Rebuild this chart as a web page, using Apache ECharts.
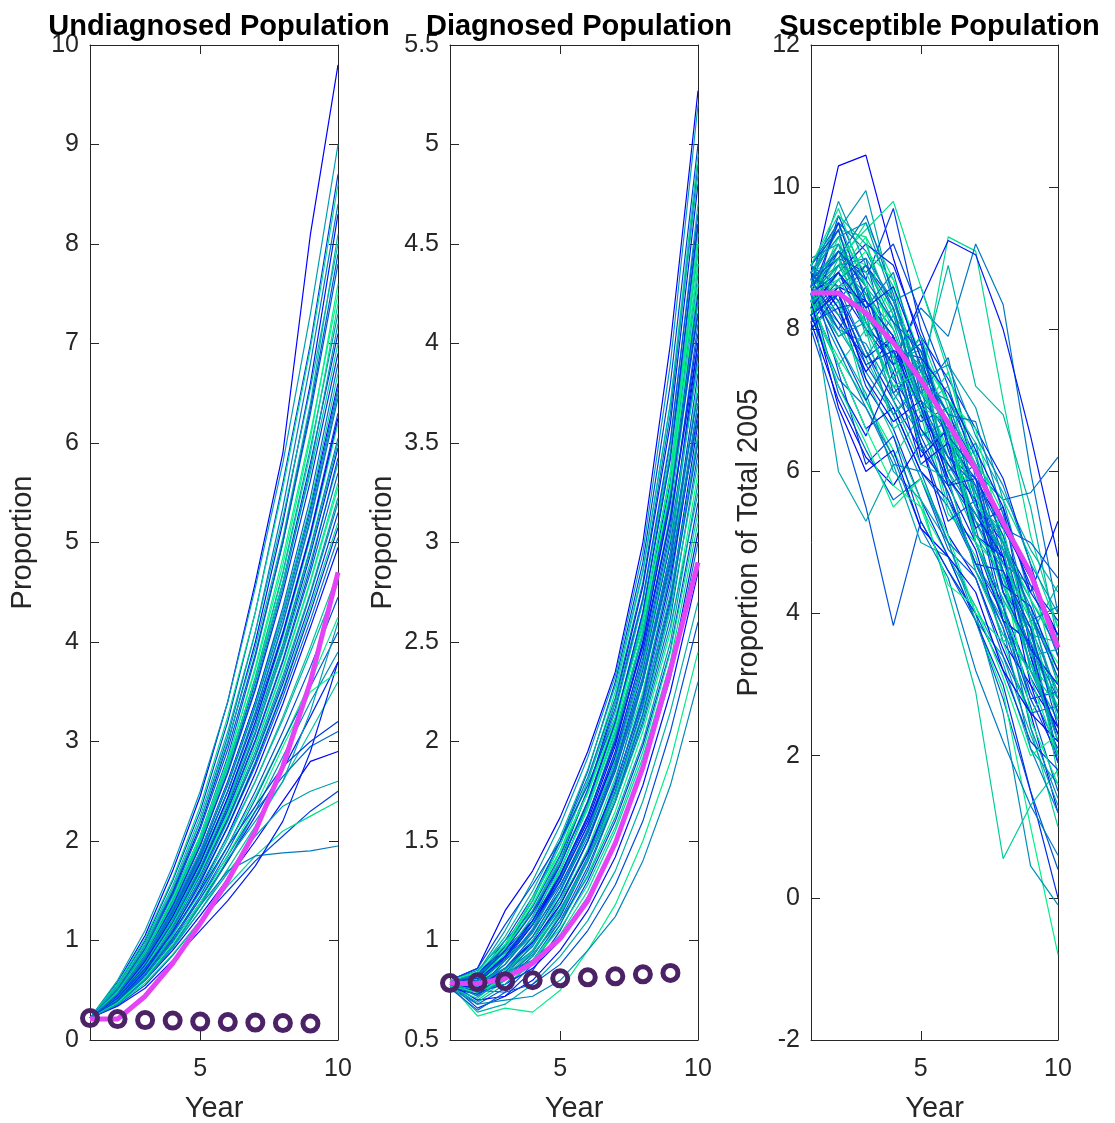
<!DOCTYPE html>
<html>
<head>
<meta charset="utf-8">
<script src="https://cdn.jsdelivr.net/npm/echarts@6/dist/echarts.min.js"></script>
<style>
  html, body { margin: 0; padding: 0; background: #fff; }
  #main { width: 1115px; height: 1123px; }
</style>
</head>
<body>
<div id="main"></div>
<script>
// years on the x axis
var years = [1, 2, 3, 4, 5, 6, 7, 8, 9, 10];

// panel titles / axis names
var titles = ['Undiagnosed Population', 'Diagnosed Population', 'Susceptible Population'];
var yNames = ['Proportion', 'Proportion', 'Proportion of Total 2005'];

// undiagnosed: simulation runs, mean (magenta), observed (circles, years 1-9)
var undiagRuns = [
    [0.22,0.58,1.05,1.7,2.45,3.4,4.6,5.9,8.1,9.8],
    [0.22,0.6,1.1,1.75,2.5,3.4,4.55,5.8,7.3,9.0],
    [0.22,0.55,1.0,1.6,2.3,3.2,4.3,5.6,7.0,8.7],
    [0.22,0.57,1.02,1.62,2.35,3.25,4.3,5.55,6.95,8.6],
    [0.22,0.52,0.95,1.5,2.2,3.05,4.1,5.35,6.8,8.4],
    [0.22,0.5,0.92,1.48,2.15,2.98,4.0,5.2,6.6,8.3],
    [0.22,0.55,0.98,1.55,2.25,3.1,4.1,5.25,6.55,8.0],
    [0.22,0.5,0.9,1.42,2.05,2.85,3.85,5.0,6.3,7.8],
    [0.22,0.48,0.88,1.4,2.02,2.8,3.75,4.85,6.1,7.5],
    [0.22,0.5,0.9,1.4,2.0,2.75,3.65,4.7,5.95,7.3],
    [0.22,0.47,0.85,1.35,1.95,2.7,3.6,4.6,5.8,7.1],
    [0.22,0.52,0.93,1.45,2.05,2.78,3.62,4.6,5.7,7.0],
    [0.22,0.46,0.83,1.3,1.88,2.58,3.4,4.35,5.45,6.8],
    [0.22,0.48,0.86,1.33,1.9,2.6,3.4,4.3,5.35,6.6],
    [0.22,0.45,0.8,1.27,1.82,2.5,3.3,4.2,5.25,6.5],
    [0.22,0.47,0.84,1.3,1.85,2.5,3.25,4.1,5.1,6.3],
    [0.22,0.44,0.78,1.23,1.77,2.42,3.18,4.05,5.05,6.2],
    [0.22,0.46,0.82,1.27,1.8,2.43,3.15,3.98,4.95,6.05],
    [0.22,0.43,0.76,1.2,1.72,2.35,3.08,3.92,4.88,5.95],
    [0.22,0.45,0.8,1.25,1.78,2.4,3.1,3.9,4.8,5.8],
    [0.22,0.42,0.75,1.18,1.7,2.3,3.0,3.8,4.7,5.7],
    [0.22,0.44,0.78,1.2,1.7,2.28,2.95,3.72,4.6,5.55],
    [0.22,0.41,0.73,1.15,1.65,2.23,2.9,3.66,4.5,5.45],
    [0.22,0.43,0.76,1.17,1.66,2.22,2.85,3.58,4.4,5.3],
    [0.22,0.4,0.7,1.1,1.58,2.15,2.8,3.52,4.35,5.2],
    [0.22,0.42,0.74,1.14,1.6,2.14,2.75,3.45,4.22,5.05],
    [0.22,0.39,0.68,1.06,1.52,2.06,2.68,3.38,4.15,4.95],
    [0.22,0.41,0.72,1.1,1.55,2.05,2.6,3.22,3.9,4.6],
    [0.22,0.38,0.66,1.02,1.45,1.95,2.5,3.1,3.75,4.45],
    [0.22,0.4,0.7,1.06,1.48,1.95,2.45,3.0,3.6,4.25],
    [0.22,0.37,0.62,0.95,1.35,1.8,2.3,2.85,3.4,3.9],
    [0.22,0.38,0.64,0.98,1.38,1.8,2.25,2.72,3.25,3.8],
    [0.22,0.36,0.6,0.92,1.3,1.72,2.15,2.6,3.1,3.6],
    [0.22,0.4,0.68,1.03,1.42,1.85,2.3,2.65,2.95,3.1],
    [0.22,0.37,0.6,0.9,1.25,1.62,2.0,2.4,2.8,2.9],
    [0.22,0.38,0.62,0.93,1.3,1.68,2.05,2.35,2.5,2.6],
    [0.22,0.35,0.55,0.85,1.2,1.5,1.8,2.05,2.3,2.5],
    [0.22,0.36,0.57,0.86,1.2,1.55,1.85,2.1,2.25,2.4],
    [0.22,0.45,0.7,1.0,1.35,1.7,1.85,1.88,1.9,1.95],
    [0.22,0.34,0.52,0.8,1.1,1.4,1.75,2.2,2.9,3.8],
    [0.22,0.53,0.96,1.52,2.2,3.0,3.95,5.05,6.4,8.1],
    [0.22,0.51,0.92,1.46,2.12,2.92,3.88,5.0,6.35,7.9],
    [0.22,0.49,0.89,1.42,2.05,2.82,3.72,4.78,6.05,7.6],
    [0.22,0.5,0.88,1.38,1.98,2.7,3.55,4.55,5.75,7.2],
    [0.22,0.47,0.86,1.36,1.96,2.68,3.52,4.5,5.62,6.9],
    [0.22,0.46,0.84,1.32,1.9,2.58,3.38,4.3,5.38,6.7],
    [0.22,0.45,0.81,1.28,1.84,2.5,3.28,4.18,5.22,6.45],
    [0.22,0.44,0.79,1.24,1.78,2.44,3.2,4.08,5.08,6.25],
    [0.22,0.43,0.77,1.21,1.74,2.37,3.1,3.95,4.92,6.0],
    [0.22,0.42,0.75,1.18,1.7,2.32,3.02,3.82,4.75,5.85],
    [0.22,0.41,0.73,1.16,1.67,2.26,2.95,3.74,4.62,5.6],
    [0.22,0.4,0.71,1.12,1.62,2.2,2.86,3.62,4.48,5.4],
    [0.22,0.39,0.69,1.09,1.58,2.14,2.78,3.5,4.3,5.15],
    [0.22,0.38,0.67,1.05,1.5,2.02,2.6,3.25,3.95,4.7],
    [0.22,0.39,0.66,1.0,1.42,1.9,2.42,3.0,3.55,4.1],
    [0.22,0.37,0.63,0.97,1.38,1.86,2.35,2.95,3.5,3.7],
    [0.22,0.36,0.6,0.93,1.35,1.82,2.2,2.6,3.3,4.2],
    [0.22,0.42,0.72,1.08,1.5,1.95,2.35,2.75,3.0,3.2],
    [0.22,0.48,0.87,1.38,1.99,2.74,3.63,4.68,5.9,7.4],
    [0.22,0.46,0.83,1.31,1.88,2.56,3.35,4.25,5.3,6.55]
];
var undiagMean = [0.21,0.21,0.44,0.77,1.17,1.6,2.1,2.75,3.6,4.7];
var undiagObs = [0.22,0.21,0.2,0.195,0.185,0.18,0.175,0.17,0.165];

// diagnosed
var diagRuns = [
    [0.8,0.86,1.15,1.35,1.62,1.95,2.35,3.0,4.0,5.27],
    [0.79,0.84,1.05,1.3,1.58,1.92,2.33,2.95,3.9,5.2],
    [0.78,0.82,1.0,1.22,1.5,1.85,2.3,2.9,3.8,5.0],
    [0.77,0.8,0.95,1.18,1.45,1.8,2.25,2.85,3.7,4.95],
    [0.79,0.83,0.98,1.2,1.5,1.82,2.22,2.8,3.65,4.9],
    [0.78,0.78,0.92,1.12,1.4,1.75,2.2,2.78,3.6,4.8],
    [0.76,0.8,0.95,1.15,1.42,1.75,2.15,2.7,3.5,4.7],
    [0.78,0.75,0.9,1.1,1.38,1.7,2.1,2.65,3.45,4.6],
    [0.8,0.82,0.96,1.15,1.4,1.7,2.08,2.6,3.35,4.5],
    [0.77,0.76,0.88,1.05,1.3,1.62,2.02,2.55,3.3,4.4],
    [0.79,0.8,0.9,1.08,1.33,1.63,2.0,2.5,3.2,4.3],
    [0.78,0.72,0.85,1.02,1.25,1.55,1.95,2.45,3.15,4.2],
    [0.76,0.78,0.88,1.04,1.27,1.56,1.93,2.42,3.08,4.1],
    [0.8,0.84,0.95,1.1,1.3,1.58,1.92,2.38,3.0,4.0],
    [0.78,0.74,0.82,0.98,1.2,1.5,1.87,2.33,2.95,3.95],
    [0.77,0.79,0.86,1.0,1.22,1.5,1.85,2.3,2.9,3.85],
    [0.79,0.7,0.8,0.95,1.18,1.46,1.82,2.25,2.85,3.8],
    [0.78,0.77,0.84,0.97,1.18,1.45,1.78,2.2,2.78,3.7],
    [0.76,0.73,0.8,0.92,1.12,1.4,1.75,2.18,2.72,3.6],
    [0.8,0.82,0.9,1.02,1.2,1.44,1.74,2.14,2.68,3.55],
    [0.78,0.68,0.76,0.9,1.1,1.37,1.7,2.1,2.62,3.45],
    [0.77,0.75,0.8,0.9,1.08,1.33,1.65,2.05,2.55,3.35],
    [0.79,0.78,0.82,0.93,1.1,1.32,1.62,2.0,2.5,3.3],
    [0.78,0.66,0.72,0.85,1.05,1.3,1.6,1.98,2.46,3.2],
    [0.76,0.74,0.78,0.88,1.03,1.25,1.55,1.92,2.4,3.1],
    [0.8,0.8,0.84,0.9,1.02,1.22,1.5,1.86,2.32,3.0],
    [0.78,0.7,0.72,0.8,0.95,1.15,1.42,1.78,2.25,2.85],
    [0.77,0.64,0.68,0.78,0.92,1.1,1.35,1.7,2.15,2.7],
    [0.79,0.75,0.74,0.78,0.88,1.05,1.28,1.6,2.05,2.6],
    [0.78,0.62,0.66,0.64,0.75,0.95,1.18,1.5,1.9,2.45],
    [0.76,0.68,0.7,0.72,0.8,0.95,1.12,1.4,1.78,2.3],
    [0.78,0.82,0.92,1.08,1.35,1.68,2.1,2.62,3.3,4.15],
    [0.77,0.8,0.98,1.2,1.48,1.8,2.2,2.72,3.45,4.45],
    [0.79,0.76,0.86,1.02,1.25,1.55,1.9,2.4,3.05,3.9],
    [0.78,0.79,0.9,1.08,1.32,1.6,1.98,2.5,3.22,4.25],
    [0.8,0.85,1.0,1.15,1.4,1.68,2.05,2.55,3.25,4.35],
    [0.77,0.73,0.84,1.0,1.22,1.5,1.88,2.36,3.0,3.95],
    [0.78,0.81,0.93,1.12,1.36,1.66,2.04,2.55,3.28,4.5],
    [0.76,0.78,0.84,0.95,1.15,1.42,1.8,2.3,2.95,3.75],
    [0.79,0.74,0.78,0.86,1.0,1.2,1.48,1.85,2.35,3.05],
    [0.78,0.84,1.02,1.25,1.52,1.86,2.28,2.86,3.7,4.85],
    [0.79,0.82,0.97,1.17,1.43,1.76,2.17,2.72,3.52,4.65],
    [0.77,0.78,0.9,1.09,1.35,1.67,2.07,2.6,3.36,4.4],
    [0.8,0.77,0.88,1.06,1.31,1.62,2.02,2.53,3.24,4.22],
    [0.78,0.8,0.91,1.08,1.3,1.58,1.95,2.45,3.12,4.05],
    [0.76,0.71,0.83,1.0,1.24,1.54,1.91,2.38,3.02,3.9],
    [0.79,0.83,0.94,1.08,1.28,1.54,1.88,2.32,2.92,3.75],
    [0.78,0.76,0.86,0.99,1.18,1.44,1.78,2.22,2.82,3.65],
    [0.77,0.69,0.78,0.92,1.13,1.4,1.74,2.17,2.74,3.52],
    [0.8,0.86,1.08,1.28,1.5,1.78,2.12,2.58,3.22,4.15],
    [0.78,0.79,0.96,1.22,1.45,1.74,2.12,2.62,3.35,4.55],
    [0.79,0.72,0.8,0.94,1.15,1.42,1.77,2.23,2.85,3.7],
    [0.77,0.8,0.92,1.1,1.33,1.62,2.0,2.48,3.12,4.0],
    [0.78,0.75,0.82,0.95,1.14,1.4,1.72,2.12,2.66,3.4],
    [0.76,0.65,0.74,0.88,1.08,1.35,1.7,2.14,2.7,3.5],
    [0.8,0.84,0.98,1.18,1.45,1.74,2.1,2.58,3.28,4.3],
    [0.78,0.78,0.86,0.98,1.16,1.4,1.7,2.08,2.58,3.25],
    [0.79,0.81,0.95,1.14,1.38,1.7,2.1,2.65,3.42,4.6],
    [0.77,0.74,0.8,0.9,1.06,1.28,1.57,1.95,2.45,3.15],
    [0.78,0.8,0.9,1.05,1.25,1.52,1.86,2.3,2.88,3.62]
];
var diagMean = [0.786,0.783,0.81,0.886,1.01,1.2,1.49,1.87,2.36,2.9];
var diagObs = [0.786,0.79,0.795,0.8,0.81,0.815,0.82,0.83,0.837];

// susceptible
var suscRuns = [
    [8.6,10.3,10.45,9.0,7.8,6.5,5.8,4.6,3.5,2.2],
    [8.8,9.4,9.95,8.4,8.6,7.5,6.9,5.6,4.2,3.0],
    [8.3,9.6,8.7,9.7,8.0,7.0,6.2,5.0,3.6,2.6],
    [8.9,9.4,9.3,8.6,7.2,9.3,9.1,7.0,5.1,3.8],
    [8.4,8.8,8.2,7.6,8.3,7.9,9.2,8.35,6.0,4.0],
    [8.2,8.6,8.0,7.5,8.4,9.25,9.05,8.0,6.5,4.8],
    [8.8,9.5,8.6,8.1,7.4,8.9,7.2,6.8,5.5,3.6],
    [8.0,6.8,5.5,3.83,5.3,4.6,3.9,2.8,1.5,0.4],
    [8.3,7.6,7.0,6.3,5.5,4.8,3.9,2.9,1.0,-0.8],
    [8.6,8.0,7.4,6.8,5.9,5.0,4.0,2.6,0.45,-0.1],
    [8.9,8.3,7.2,6.6,5.6,4.8,3.9,3.0,1.5,0.0],
    [8.5,8.1,7.3,6.5,5.6,4.3,2.9,0.55,1.3,1.8],
    [8.7,9.0,8.4,7.9,7.1,6.5,6.0,5.6,5.7,6.2],
    [8.1,7.0,6.2,5.8,6.4,5.1,4.5,3.5,2.6,1.2],
    [8.5,6.0,5.3,6.1,5.0,4.8,4.1,3.3,2.1,1.6],
    [8.7,9.0,8.8,9.2,8.2,7.2,6.0,4.8,3.4,2.0],
    [8.4,8.9,9.5,8.7,7.6,6.8,5.5,4.3,3.3,2.8],
    [9.0,9.2,8.5,8.0,6.9,6.1,5.4,4.7,4.0,3.2],
    [8.2,8.5,7.7,7.0,6.3,5.8,5.0,4.1,3.1,2.4],
    [8.6,9.0,8.3,7.4,7.9,6.5,5.3,4.4,3.7,4.4],
    [8.8,8.2,7.5,6.9,6.0,5.5,4.7,3.8,2.7,1.5],
    [8.3,9.1,8.9,8.2,7.3,6.2,5.7,5.0,3.9,3.3],
    [8.5,7.9,8.1,7.2,6.6,5.9,4.6,3.9,3.2,2.5],
    [8.9,8.6,8.9,8.4,7.5,6.8,6.1,5.3,4.4,3.9],
    [8.0,8.4,7.0,6.2,6.8,5.4,5.0,4.2,2.4,1.0],
    [8.7,9.4,8.2,7.8,7.0,5.9,5.3,4.6,3.8,2.9],
    [8.4,7.5,6.6,6.9,6.0,5.6,4.9,3.6,3.0,1.9],
    [8.6,8.9,8.5,7.6,7.7,7.0,6.4,5.7,4.9,4.3],
    [8.2,8.7,9.0,7.5,6.4,5.7,4.7,4.0,2.9,2.1],
    [8.8,9.3,8.0,8.6,7.2,6.3,5.8,4.3,3.5,2.7],
    [8.5,8.0,7.8,7.1,6.5,6.7,5.5,4.9,4.2,3.5],
    [8.3,8.8,9.2,8.9,7.9,7.3,6.6,5.9,4.7,3.4],
    [8.7,8.4,7.6,6.8,7.3,6.0,5.1,4.5,3.3,2.3],
    [8.9,9.5,9.1,8.3,7.0,6.6,5.2,3.9,3.6,2.8],
    [8.1,8.6,8.4,7.9,6.8,6.2,5.9,5.2,4.5,3.7],
    [8.6,7.8,7.1,6.0,5.6,5.0,3.9,3.4,2.3,1.3],
    [8.4,9.1,8.6,7.3,6.7,6.9,5.6,4.1,2.8,2.0],
    [8.8,9.0,9.4,9.8,8.6,7.4,6.2,5.4,4.5,3.6],
    [8.2,7.3,6.9,6.2,5.2,4.5,3.2,2.2,1.3,0.6],
    [8.5,8.8,8.0,7.7,7.6,6.4,5.5,5.0,4.3,5.3],
    [8.4,9.2,7.9,8.3,6.9,7.2,5.6,5.1,3.2,2.5],
    [8.7,8.0,8.6,7.1,7.5,5.8,6.1,4.3,3.8,1.9],
    [8.2,8.8,9.3,7.6,6.5,6.9,5.0,4.6,2.6,3.1],
    [8.9,8.4,7.6,8.2,7.0,6.0,6.4,4.9,4.1,2.6],
    [8.5,9.5,8.4,7.3,7.9,6.3,5.2,5.5,3.5,3.0],
    [8.3,7.5,8.0,6.6,6.9,5.5,4.8,3.6,3.9,1.7],
    [8.6,9.0,9.6,8.5,7.1,7.6,5.9,4.7,4.4,3.4],
    [8.8,8.3,7.4,7.9,6.2,6.6,5.1,4.8,3.0,2.4],
    [8.1,8.9,8.2,7.0,7.6,6.0,6.3,4.5,3.7,3.6],
    [8.6,7.8,7.0,7.7,6.4,5.3,5.6,3.9,2.8,2.9],
    [8.4,9.3,8.8,8.0,6.8,7.4,6.0,5.3,4.6,3.0],
    [8.7,8.6,7.7,6.8,7.2,5.6,4.7,4.1,2.4,1.4],
    [8.2,7.2,6.5,7.4,6.1,6.4,5.0,3.9,3.6,2.0],
    [8.9,9.6,9.2,8.2,7.7,6.5,5.7,4.4,3.3,2.2],
    [8.5,7.1,6.3,5.6,5.9,4.9,4.5,3.4,2.6,2.7],
    [8.3,8.7,9.1,8.7,7.6,7.0,6.6,5.0,4.2,3.6],
    [8.6,9.8,8.9,8.1,6.9,6.2,5.3,4.9,3.2,2.3],
    [8.8,7.4,6.1,6.5,5.3,4.6,4.0,3.2,2.2,1.8],
    [8.4,8.6,8.7,7.3,7.9,6.9,6.1,5.6,4.8,3.8],
    [8.7,9.1,8.3,8.8,7.4,6.8,6.7,5.4,3.9,4.1],
    [8.0,8.5,7.3,6.7,7.0,5.9,5.4,4.8,3.4,2.3],
    [8.6,8.2,8.5,7.7,6.3,6.6,5.0,4.2,3.5,2.0],
    [8.9,9.4,8.1,7.5,7.8,6.4,5.9,5.1,4.0,3.1],
    [8.3,7.2,6.4,5.5,5.9,5.1,4.0,3.6,2.5,1.6],
    [8.5,8.9,9.0,8.4,7.3,7.5,6.5,5.8,4.7,4.0],
    [8.7,8.1,7.6,7.9,6.6,6.1,5.6,4.4,4.1,3.2],
    [8.2,9.0,8.0,7.2,7.1,6.7,5.5,5.2,3.6,2.9],
    [8.8,8.4,8.9,8.3,7.0,6.2,5.8,4.6,3.7,2.6],
    [8.4,6.9,6.0,6.3,5.2,4.8,4.3,3.2,2.6,2.2],
    [8.6,9.2,8.6,7.8,7.5,6.0,5.4,4.9,3.4,3.5],
    [8.1,8.3,8.4,7.9,6.5,5.7,4.7,4.6,3.8,2.4],
    [8.9,9.7,8.6,7.6,6.9,6.7,5.0,4.0,3.1,2.0],
    [8.5,7.7,6.9,6.1,6.0,5.0,4.6,3.8,2.1,1.2],
    [8.3,8.8,8.3,8.6,7.6,7.1,6.3,5.5,4.3,3.7],
    [8.7,7.9,8.2,7.0,6.1,5.9,4.6,3.7,3.2,2.7],
    [8.6,9.1,8.7,8.1,7.7,6.5,6.0,5.2,5.0,4.5],
    [8.4,7.5,6.6,5.8,5.5,4.4,4.1,3.1,2.0,2.3],
    [8.8,9.3,9.5,8.4,7.2,7.0,5.7,5.0,4.0,2.8],
    [8.2,8.5,7.5,7.7,6.9,5.8,5.9,4.3,3.5,3.0],
    [8.5,8.7,8.1,7.2,7.4,6.5,5.1,4.7,3.9,2.5]
];
var suscMean = [8.51,8.51,8.23,7.81,7.29,6.68,6.03,5.28,4.57,3.52];

// y axis ranges per panel
var yMins = [0, 0.5, -2];
var yMaxs = [10, 5.5, 12];
var ySteps = [1, 0.5, 2];

var FONT = 'Liberation Sans, Arial, Helvetica, sans-serif';
var AX = '#262626';
var gridLefts = [90, 450, 811];
var gridWidths = [248, 248, 247];

// winter colormap, blue -> spring green
function winter(t) {
    return 'rgb(0,' + Math.round(255 * t) + ',' + Math.round(255 - 127 * t) + ')';
}

var grids = [], xAxes = [], yAxes = [], titleList = [], series = [];

for (var g = 0; g < 3; g++) {
    grids.push({left: gridLefts[g], top: 45, width: gridWidths[g], height: 995, outerBoundsMode: 'none'});
    titleList.push({
        text: titles[g],
        left: gridLefts[g] + gridWidths[g] / 2,
        textAlign: 'center',
        top: 7,
        textStyle: {fontFamily: FONT, fontSize: 29, fontWeight: 'bold', color: '#000'}
    });
    // bottom x
    xAxes.push({
        gridIndex: g, type: 'value', min: 1, max: 10, position: 'bottom',
        name: 'Year', nameLocation: 'middle', nameGap: 54,
        nameTextStyle: {fontFamily: FONT, fontSize: 29, color: AX},
        axisLine: {show: true, onZero: false, lineStyle: {color: AX, width: 1}},
        axisTick: {show: true, inside: true, length: 9, customValues: [5, 10], lineStyle: {color: AX}},
        axisLabel: {show: true, customValues: [5, 10], margin: 17, fontFamily: FONT, fontSize: 25, color: AX},
        splitLine: {show: false}
    });
    // top x (mirror ticks)
    xAxes.push({
        gridIndex: g, type: 'value', min: 1, max: 10, position: 'top',
        axisLine: {show: true, onZero: false, lineStyle: {color: AX, width: 1}},
        axisTick: {show: true, inside: true, length: 9, customValues: [5], lineStyle: {color: AX}},
        axisLabel: {show: false},
        splitLine: {show: false}
    });
    // left y
    yAxes.push({
        gridIndex: g, type: 'value', min: yMins[g], max: yMaxs[g], interval: ySteps[g], position: 'left',
        name: yNames[g], nameLocation: 'middle', nameGap: g === 2 ? 48 : 53, nameRotate: 90,
        nameTextStyle: {fontFamily: FONT, fontSize: 29, color: AX},
        axisLine: {show: true, onZero: false, lineStyle: {color: AX, width: 1}},
        axisTick: {show: true, inside: true, length: 9, lineStyle: {color: AX}},
        axisLabel: {show: true, margin: 11, fontFamily: FONT, fontSize: 25, color: AX},
        splitLine: {show: false}
    });
    // right y (mirror ticks)
    yAxes.push({
        gridIndex: g, type: 'value', min: yMins[g], max: yMaxs[g], interval: ySteps[g], position: 'right',
        axisLine: {show: true, onZero: false, lineStyle: {color: AX, width: 1}},
        axisTick: {show: true, inside: true, length: 9, lineStyle: {color: AX}},
        axisLabel: {show: false},
        splitLine: {show: false}
    });
}

function toPairs(vals) {
    return vals.map(function (v, k) { return [years[k], v]; });
}

function addRuns(runs, g) {
    runs.forEach(function (r, i) {
        series.push({
            type: 'line', xAxisIndex: g * 2, yAxisIndex: g * 2,
            data: toPairs(r), showSymbol: false, silent: true, z: 2,
            lineStyle: {width: 1.2, color: winter((i * 0.618) % 1)}
        });
    });
}

function addMean(vals, g) {
    series.push({
        type: 'line', xAxisIndex: g * 2, yAxisIndex: g * 2,
        data: toPairs(vals), showSymbol: false, silent: true, z: 3,
        lineStyle: {width: 5, color: '#e444f4'}
    });
}

function addObs(vals, g) {
    series.push({
        type: 'scatter', xAxisIndex: g * 2, yAxisIndex: g * 2,
        data: toPairs(vals), symbol: 'circle', symbolSize: 15, silent: true, z: 4,
        itemStyle: {color: 'rgba(0,0,0,0)', borderColor: '#4b2266', borderWidth: 5, opacity: 1}
    });
}

addRuns(undiagRuns, 0);
addMean(undiagMean, 0);
addObs(undiagObs, 0);
addRuns(diagRuns, 1);
addMean(diagMean, 1);
addObs(diagObs, 1);
addRuns(suscRuns, 2);
addMean(suscMean, 2);

var chart = echarts.init(document.getElementById('main'));
chart.setOption({
    animation: false,
    backgroundColor: '#fff',
    title: titleList,
    grid: grids,
    xAxis: xAxes,
    yAxis: yAxes,
    series: series
});
</script>
</body>
</html>
